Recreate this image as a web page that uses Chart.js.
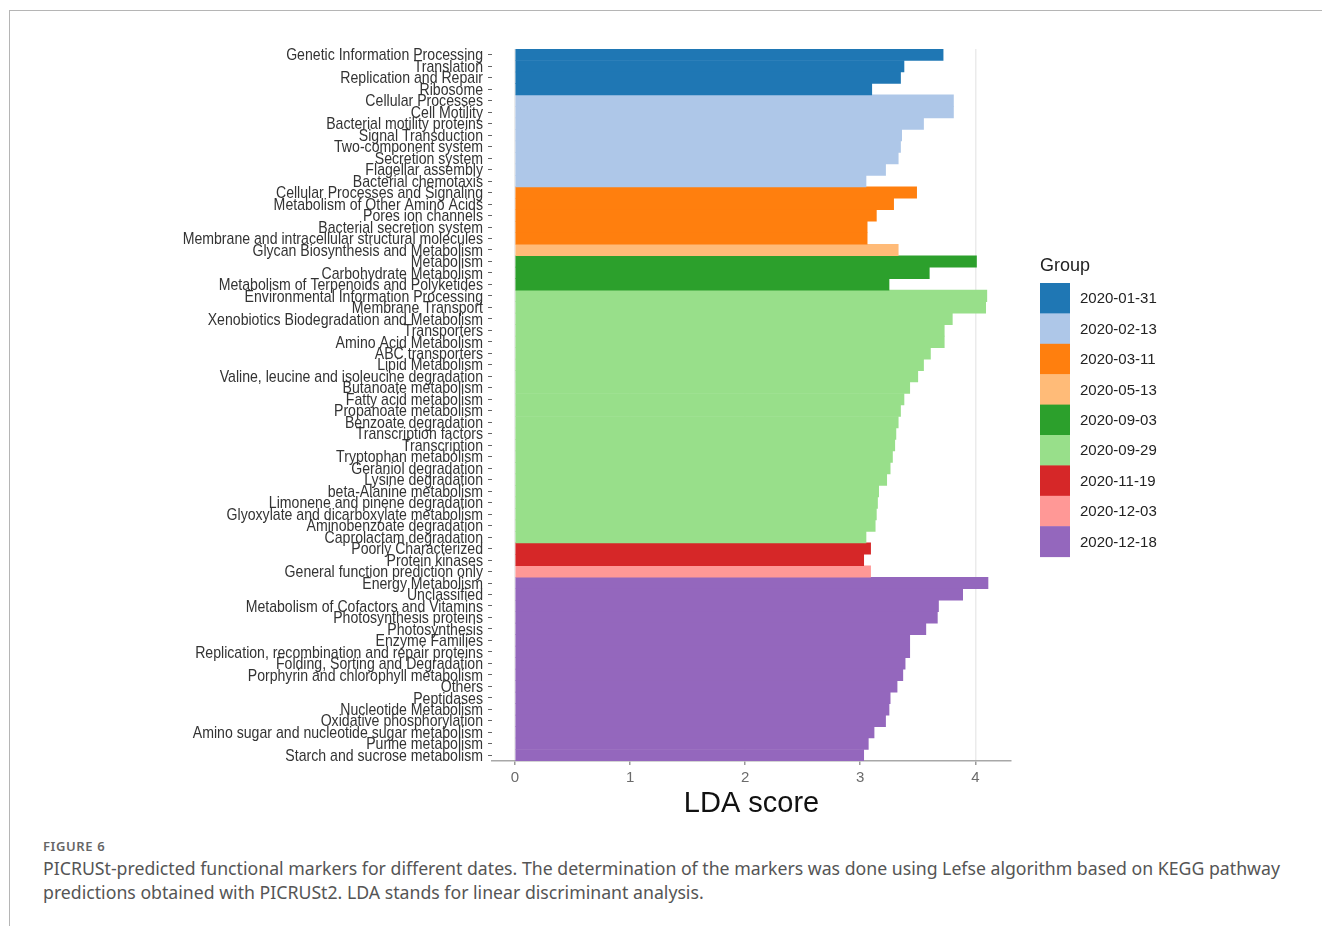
<!DOCTYPE html>
<html>
<head>
<meta charset="utf-8">
<script src="https://cdn.jsdelivr.net/npm/chart.js@4/dist/chart.umd.min.js"></script>
<style>
  html, body { margin: 0; padding: 0; background: #fff; }
  body { width: 1322px; height: 926px; position: relative; overflow: hidden; }
  #frame { position: absolute; left: 9px; top: 10px; right: -2px; bottom: -2px;
           border-top: 1.5px solid #b5b5b5; border-left: 1.5px solid #b5b5b5; }
  #chart { position: absolute; left: 0; top: 0; }
  #figlabel { position: absolute; left: 43px; top: 837px; font: 600 13px "Noto Sans", sans-serif;
              color: #666; letter-spacing: 0.6px; }
  #caption { position: absolute; left: 43px; top: 856px; font: 17.7px "Noto Sans", sans-serif;
             color: #555; line-height: 24px; white-space: nowrap; }
</style>
</head>
<body>
<div id="frame"></div>
<canvas id="chart" width="1322" height="830"></canvas>
<div id="figlabel">FIGURE 6</div>
<div id="caption">PICRUSt-predicted functional markers for different dates. The determination of the markers was done using Lefse algorithm based on KEGG pathway<br>predictions obtained with PICRUSt2. LDA stands for linear discriminant analysis.</div>
<script>
// sampling dates, in legend order
const groups = ['2020-01-31', '2020-02-13', '2020-03-11', '2020-05-13', '2020-09-03',
                '2020-09-29', '2020-11-19', '2020-12-03', '2020-12-18'];
// how many consecutive features belong to each date
const groupSizes = [4, 8, 5, 1, 3, 22, 2, 1, 16];
const groupColors = ['#1f77b4', '#aec7e8', '#ff7f0e', '#ffbb78', '#2ca02c',
                     '#98df8a', '#d62728', '#ff9896', '#9467bd'];

const features = [
  'Genetic Information Processing', 'Translation', 'Replication and Repair', 'Ribosome',
  'Cellular Processes', 'Cell Motility', 'Bacterial motility proteins', 'Signal Transduction',
  'Two-component system', 'Secretion system', 'Flagellar assembly', 'Bacterial chemotaxis',
  'Cellular Processes and Signaling', 'Metabolism of Other Amino Acids', 'Pores ion channels',
  'Bacterial secretion system', 'Membrane and intracellular structural molecules',
  'Glycan Biosynthesis and Metabolism',
  'Metabolism', 'Carbohydrate Metabolism', 'Metabolism of Terpenoids and Polyketides',
  'Environmental Information Processing', 'Membrane Transport',
  'Xenobiotics Biodegradation and Metabolism', 'Transporters', 'Amino Acid Metabolism',
  'ABC transporters', 'Lipid Metabolism', 'Valine, leucine and isoleucine degradation',
  'Butanoate metabolism', 'Fatty acid metabolism', 'Propanoate metabolism',
  'Benzoate degradation', 'Transcription factors', 'Transcription', 'Tryptophan metabolism',
  'Geraniol degradation', 'Lysine degradation', 'beta-Alanine metabolism',
  'Limonene and pinene degradation', 'Glyoxylate and dicarboxylate metabolism',
  'Aminobenzoate degradation', 'Caprolactam degradation',
  'Poorly Characterized', 'Protein kinases',
  'General function prediction only',
  'Energy Metabolism', 'Unclassified', 'Metabolism of Cofactors and Vitamins',
  'Photosynthesis proteins', 'Photosynthesis', 'Enzyme Families',
  'Replication, recombination and repair proteins', 'Folding, Sorting and Degradation',
  'Porphyrin and chlorophyll metabolism', 'Others', 'Peptidases', 'Nucleotide Metabolism',
  'Oxidative phosphorylation', 'Amino sugar and nucleotide sugar metabolism',
  'Purine metabolism', 'Starch and sucrose metabolism'
];

const ldaScores = [
  3.72, 3.38, 3.35, 3.10,
  3.81, 3.81, 3.55, 3.36, 3.35, 3.33, 3.22, 3.05,
  3.49, 3.29, 3.14, 3.06, 3.06,
  3.33,
  4.01, 3.60, 3.25,
  4.10, 4.09, 3.80, 3.73, 3.73, 3.61, 3.55, 3.50, 3.43, 3.38, 3.35,
  3.33, 3.31, 3.30, 3.28, 3.26, 3.23, 3.16, 3.15, 3.14, 3.13, 3.05,
  3.09, 3.03,
  3.09,
  4.11, 3.89, 3.68, 3.67, 3.57, 3.43, 3.43, 3.39, 3.37, 3.32, 3.26, 3.25,
  3.22, 3.12, 3.07, 3.03
];

const xTicks = [0, 1, 2, 3, 4];

// one dataset per date, each holding its own slice of features
let start = 0;
const datasets = groups.map((g, i) => {
  const rows = [];
  for (let k = start; k < start + groupSizes[i]; k++) {
    rows.push({ x: ldaScores[k], y: features[k] });
  }
  start += groupSizes[i];
  return {
    label: g,
    data: rows,
    backgroundColor: groupColors[i],
    borderWidth: 0,
    barPercentage: 1,
    categoryPercentage: 1,
    grouped: false
  };
});

// feature names in a narrow face: regular Liberation Sans squeezed horizontally,
// placed on the category scale's own tick positions
const narrowLabels = {
  id: 'narrowLabels',
  afterDraw(chart) {
    const scale = chart.scales.y;
    const ctx = chart.ctx;
    ctx.save();
    ctx.fillStyle = '#333';
    ctx.font = '17px "Liberation Sans", Arial, sans-serif';
    ctx.textAlign = 'right';
    ctx.textBaseline = 'middle';
    scale.ticks.forEach((t, i) => {
      ctx.save();
      ctx.translate(scale.right - 9, scale.getPixelForTick(i) + 1);
      ctx.scale(0.83, 1);
      ctx.fillText(scale.getLabelForValue(t.value), 0, 0);
      ctx.restore();
    });
    ctx.restore();
  }
};

// legend block on the right: title plus stacked colour keys
const groupLegend = {
  id: 'groupLegend',
  afterDraw(chart) {
    const ctx = chart.ctx;
    const x0 = chart.chartArea.right + 29;
    const y0 = 283;
    const h = 30.4;
    ctx.save();
    ctx.fillStyle = '#222';
    ctx.font = '18px "Liberation Sans", Arial, sans-serif';
    ctx.textBaseline = 'alphabetic';
    ctx.fillText('Group', x0, 271);
    ctx.font = '15px "Liberation Sans", Arial, sans-serif';
    ctx.textBaseline = 'middle';
    chart.data.datasets.forEach((ds, i) => {
      ctx.fillStyle = ds.backgroundColor;
      ctx.fillRect(x0, y0 + i * h, 30, h + 0.5);
      ctx.fillStyle = '#222';
      ctx.fillText(ds.label, x0 + 40, y0 + i * h + h / 2 + 1);
    });
    ctx.restore();
  }
};

new Chart(document.getElementById('chart'), {
  type: 'bar',
  data: { labels: features, datasets },
  options: {
    indexAxis: 'y',
    responsive: false,
    animation: false,
    devicePixelRatio: 1,
    layout: { padding: { left: 0, right: 311, top: 49, bottom: 9 } },
    plugins: { legend: { display: false }, tooltip: { enabled: false } },
    scales: {
      x: {
        type: 'linear',
        min: -0.2,
        max: 4.31,
        afterBuildTicks: s => { s.ticks = xTicks.map(v => ({ value: v })); },
        afterFit: s => { s.height = 60; },
        grid: { color: '#ebebeb', lineWidth: 1.5, tickColor: '#9a9a9a', tickLength: 4 },
        border: { display: true, color: '#a8a8a8', width: 1.5 },
        ticks: { color: '#6b6b6b', padding: 4, font: { family: '"Liberation Sans", Arial', size: 15 } },
        title: {
          display: true, text: 'LDA score', color: '#111',
          font: { family: '"Liberation Sans", Arial', size: 29 },
          padding: { top: 0, bottom: 0 }
        }
      },
      y: {
        type: 'category',
        afterFit: s => { s.width = 492; },
        grid: { display: true, offset: false, drawOnChartArea: false, tickColor: '#666', tickLength: 4 },
        border: { display: false },
        ticks: { display: false, autoSkip: false }
      }
    }
  },
  plugins: [narrowLabels, groupLegend]
});
</script>
</body>
</html>
